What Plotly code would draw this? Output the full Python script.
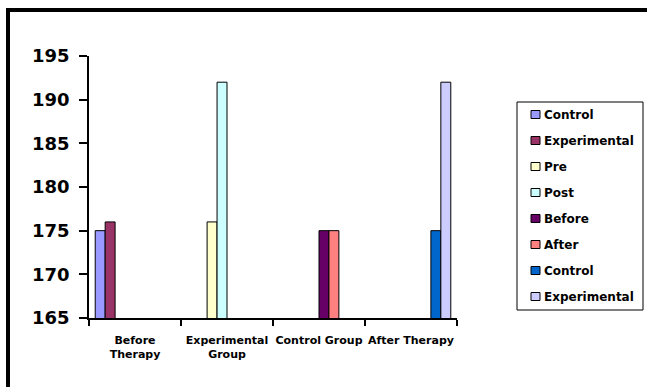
import plotly.graph_objects as go

categories = ["Before<br>Therapy", "Experimental<br>Group", "Control Group", "After Therapy"]
series_names = ["Control", "Experimental", "Pre", "Post", "Before", "After", "Control", "Experimental"]
series_category = [0, 0, 1, 1, 2, 2, 3, 3]
series_values = [175, 176, 176, 192, 175, 175, 175, 192]
series_colors = ["#9999FF", "#993366", "#FFFFCC", "#CCFFFF", "#660066", "#FF8080", "#0066CC", "#CCCCFF"]
y_ticks = [165, 170, 175, 180, 185, 190, 195]

W, H = 647, 387
PL, PR, PT, PB = 89, 457, 56, 318          # plot area in window pixels
L, T, R, B = PL, PT, W - PR, H - PB
pw, ph = W - L - R, H - T - B

def px_x(x):
    return (x - PL) / pw

def px_y(y):
    return (PB - y) / ph

fig = go.Figure()
for i, (name, ci, v, c) in enumerate(zip(series_names, series_category, series_values, series_colors)):
    fig.add_trace(go.Bar(
        x=[categories[ci]], y=[v], name=name,
        marker=dict(color=c, line=dict(color="black", width=1)),
        showlegend=False,
    ))

shapes = []
annotations = []
# frame (left and top visible)
shapes.append(dict(type="rect", xref="paper", yref="paper",
                   x0=px_x(8), x1=px_x(700), y0=px_y(10), y1=px_y(450),
                   line=dict(color="black", width=4), layer="above"))
# legend box
shapes.append(dict(type="rect", xref="paper", yref="paper",
                   x0=px_x(517), x1=px_x(643), y0=px_y(102), y1=px_y(310),
                   line=dict(color="black", width=1), fillcolor="white", layer="above"))
for i, (name, c) in enumerate(zip(series_names, series_colors)):
    yc = 114.5 + 26 * i
    shapes.append(dict(type="rect", xref="paper", yref="paper",
                       x0=px_x(531), x1=px_x(540), y0=px_y(yc - 4), y1=px_y(yc + 4),
                       line=dict(color="black", width=1), fillcolor=c, layer="above"))
    annotations.append(dict(xref="paper", yref="paper", x=px_x(541.5), y=px_y(yc),
                            xanchor="left", yanchor="middle", text=name, showarrow=False,
                            font=dict(family="DejaVu Sans", size=12, weight="bold", color="black")))

fig.update_layout(
    width=W, height=H,
    margin=dict(l=L, r=R, t=T, b=B, pad=0),
    paper_bgcolor="white", plot_bgcolor="white",
    barmode="group", bargap=0.135, bargroupgap=0,
    showlegend=False,
    font=dict(family="DejaVu Sans", color="black", size=11, weight="bold"),
    xaxis=dict(
        categoryorder="array", categoryarray=categories,
        showline=True, linecolor="black", linewidth=1.5,
        ticks="outside", tickson="boundaries", ticklen=6, tickcolor="black", tickwidth=1.5,
        tickangle=0, ticklabelstandoff=11,
        tickfont=dict(family="DejaVu Sans", size=11, weight="bold"),
        showgrid=False, zeroline=False, fixedrange=True,
    ),
    yaxis=dict(
        range=[165, 195], tickvals=y_ticks,
        showline=True, linecolor="black", linewidth=1.5,
        ticks="outside", ticklen=8, tickcolor="black", tickwidth=1.5,
        ticklabelstandoff=6,
        tickfont=dict(family="DejaVu Sans", size=18, weight="bold"),
        showgrid=False, zeroline=False,
    ),
    shapes=shapes,
    annotations=annotations,
)

fig.write_html(
    "out.html",
    config={"displayModeBar": False},
    post_script="document.body.style.margin='0';document.body.style.overflow='hidden';",
)
